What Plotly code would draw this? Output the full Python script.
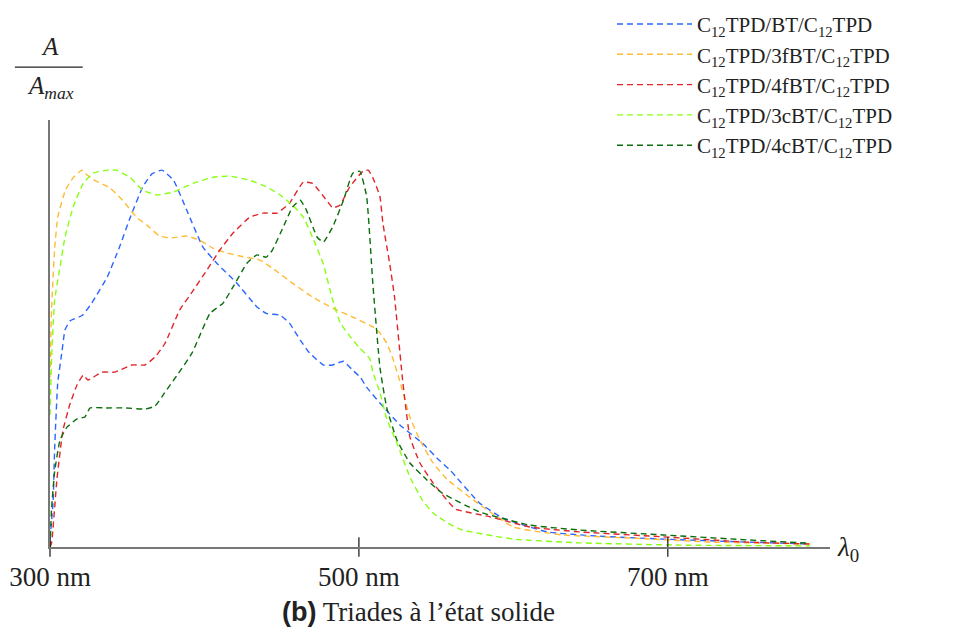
import plotly.graph_objects as go

# ---------------- data ----------------
names = [
    "C<sub>12</sub>TPD/BT/C<sub>12</sub>TPD",
    "C<sub>12</sub>TPD/3fBT/C<sub>12</sub>TPD",
    "C<sub>12</sub>TPD/4fBT/C<sub>12</sub>TPD",
    "C<sub>12</sub>TPD/3cBT/C<sub>12</sub>TPD",
    "C<sub>12</sub>TPD/4cBT/C<sub>12</sub>TPD",
]
colors = ["#2a66ff", "#ffbb33", "#e0262b", "#88ff11", "#0b6e0b"]

bt_wl = [300, 302, 303, 305, 307.8, 309.7, 313, 321, 327, 337, 345, 352, 360, 366, 372.5, 380,
         388.5, 399, 408, 421, 434, 440, 449, 455, 462, 468, 477, 483, 490, 496, 501, 505,
         513.6, 527, 541, 552, 559, 578, 593, 622, 654, 697, 751, 792]
bt_a = [0.02, 0.12, 0.26, 0.435, 0.52, 0.576, 0.60, 0.615, 0.647, 0.716, 0.796, 0.875, 0.955, 0.99, 1.0, 0.973,
        0.894, 0.796, 0.753, 0.70, 0.637, 0.62, 0.615, 0.594, 0.549, 0.515, 0.483, 0.483, 0.493, 0.469, 0.45, 0.424,
        0.382, 0.322, 0.276, 0.23, 0.204, 0.117, 0.077, 0.04, 0.029, 0.021, 0.013, 0.008]

f3_wl = [300, 301, 303, 305, 310, 315, 320.7, 324, 329, 339, 347, 356, 362.8, 371, 377.7, 388.7,
         397, 405.5, 414.6, 423, 436, 444, 457, 470, 483, 496, 509, 513.6, 518, 522, 526.5, 533,
         539.5, 548, 557, 574, 600, 632, 675, 729, 792]
f3_a = [0.45, 0.63, 0.79, 0.875, 0.947, 0.98, 1.0, 0.987, 0.973, 0.952, 0.92, 0.875, 0.854, 0.825, 0.82, 0.825,
        0.814, 0.793, 0.78, 0.772, 0.761, 0.74, 0.70, 0.663, 0.634, 0.61, 0.584, 0.568, 0.541, 0.50, 0.44, 0.345,
        0.284, 0.223, 0.18, 0.125, 0.053, 0.032, 0.024, 0.013, 0.008]

f4_wl = [300, 301, 304.5, 308.4, 313, 317.5, 321.5, 324.6, 333.6, 342, 353, 361.5, 368, 374.4, 384,
         392.6, 401.6, 410, 418.5, 429.4, 438, 447, 455, 464, 470, 479, 483, 487.7, 494, 502.6, 506,
         509, 513.6, 515.5, 520, 523, 528.5, 533, 539.5, 548, 559, 563, 585, 610.7, 643, 697, 751, 792]
f4_a = [0.0, 0.01, 0.18, 0.31, 0.38, 0.43, 0.456, 0.443, 0.464, 0.464, 0.483, 0.483, 0.504, 0.54, 0.629,
        0.68, 0.735, 0.788, 0.833, 0.875, 0.886, 0.886, 0.912, 0.968, 0.965, 0.92, 0.90, 0.907, 0.955, 0.997, 1.0,
        0.98, 0.93, 0.86, 0.75, 0.665, 0.435, 0.292, 0.223, 0.17, 0.115, 0.10, 0.08, 0.053, 0.04, 0.027, 0.013, 0.008]

c3_wl = [300, 301, 303, 306.5, 309.7, 315, 321.5, 328, 337, 343, 352, 360, 369, 380, 392.6, 405.5,
         416.5, 429.4, 440.5, 449, 457, 464, 470, 477, 483, 488, 494, 500, 507, 509, 513.6, 518,
         524.6, 533, 541, 548, 559, 567, 600, 643, 708, 792]
c3_a = [0.35, 0.5, 0.655, 0.743, 0.822, 0.902, 0.965, 0.992, 1.0, 1.0, 0.98, 0.947, 0.934, 0.942, 0.965, 0.981,
        0.984, 0.973, 0.955, 0.934, 0.907, 0.875, 0.822, 0.75, 0.655, 0.594, 0.56, 0.53, 0.50, 0.465, 0.41, 0.34,
        0.276, 0.186, 0.125, 0.09, 0.06, 0.045, 0.021, 0.011, 0.005, 0.003]

c4_wl = [300, 301, 303, 306.5, 311, 317.5, 322.6, 326, 335.6, 348.5, 361.5, 368, 374, 383, 392,
         403.6, 412, 418.5, 427.5, 434, 440, 444, 451, 457, 462, 466, 473, 477, 483, 490, 496,
         500.6, 505, 509, 513.6, 518, 524.6, 533, 544, 554, 578, 610.7, 643, 697, 751, 792]
c4_a = [0.0, 0.1, 0.20, 0.284, 0.318, 0.34, 0.345, 0.369, 0.369, 0.369, 0.366, 0.374, 0.408, 0.46, 0.515,
        0.62, 0.647, 0.69, 0.753, 0.775, 0.769, 0.788, 0.849, 0.902, 0.92, 0.894, 0.822, 0.809, 0.849, 0.92, 0.992,
        0.997, 0.93, 0.70, 0.477, 0.37, 0.284, 0.223, 0.178, 0.143, 0.093, 0.058, 0.045, 0.032, 0.019, 0.01]

series_wl = [bt_wl, f3_wl, f4_wl, c3_wl, c4_wl]
series_a = [bt_a, f3_a, f4_a, c3_a, c4_a]

tick_vals = [300, 500, 700]
tick_text = ["300 nm", "500 nm", "700 nm"]
x_range = [300, 805]
y_range = [0, 1.133]

SERIF = "Liberation Serif"
TXT = "#222222"

fig = go.Figure()
for nm, col, wl, a in zip(names, colors, series_wl, series_a):
    fig.add_trace(go.Scatter(
        x=wl, y=a, name=nm, mode="lines",
        line=dict(color=col, width=1.4, dash="6px,4px", shape="spline", smoothing=0.4),
    ))

# crossing tick marks on the wavelength axis
fig.add_trace(go.Scatter(
    x=tick_vals, y=[0] * len(tick_vals), mode="markers", showlegend=False, hoverinfo="skip",
    cliponaxis=False,
    marker=dict(symbol="line-ns", size=14, line=dict(color="#111111", width=1.2)),
))

fig.update_layout(
    width=970, height=631,
    margin=dict(l=50, r=140, t=120, b=84, autoexpand=False),
    paper_bgcolor="white", plot_bgcolor="white",
    showlegend=True,
    legend=dict(
        xref="paper", yref="paper", x=0.7205, y=1.272,
        xanchor="left", yanchor="top",
        font=dict(family=SERIF, size=21, color=TXT),
        itemwidth=75, bgcolor="rgba(0,0,0,0)", tracegroupgap=0,
    ),
    xaxis=dict(
        range=x_range, showgrid=False, zeroline=False,
        showline=True, linecolor="#777777", linewidth=2,
        tickmode="array", tickvals=tick_vals, ticktext=tick_text, ticks="",
        ticklabelstandoff=5,
        tickfont=dict(family=SERIF, size=27, color=TXT),
    ),
    yaxis=dict(
        range=y_range, showgrid=False, zeroline=False,
        showline=True, linecolor="#777777", linewidth=2,
        showticklabels=False, ticks="",
    ),
)

# arrow heads on both axes
fig.add_annotation(x=x_range[1], y=0, xref="x", yref="y", ax=-2, ay=0, text="",
                   showarrow=True, arrowhead=2, arrowsize=2.3, arrowwidth=1.5,
                   arrowcolor="#111111", standoff=0)
fig.add_annotation(x=x_range[0], y=y_range[1], xref="x", yref="y", ax=0, ay=2, text="",
                   showarrow=True, arrowhead=2, arrowsize=2.3, arrowwidth=1.5,
                   arrowcolor="#111111", standoff=0)

# axis labels
fig.add_annotation(x=0, y=1.173, xref="paper", yref="paper", xanchor="center", yanchor="middle",
                   text="<i>A</i>", showarrow=False, font=dict(family=SERIF, size=25, color=TXT))
fig.add_shape(type="line", xref="paper", yref="paper", x0=-0.045, x1=0.042, y0=1.124, y1=1.124,
              line=dict(color=TXT, width=1.3))
fig.add_annotation(x=0, y=1.075, xref="paper", yref="paper", xanchor="center", yanchor="middle",
                   text="<i>A<sub>max</sub></i>", showarrow=False,
                   font=dict(family=SERIF, size=25, color=TXT))
fig.add_annotation(x=1.006, y=-0.005, xref="paper", yref="paper", xanchor="left", yanchor="middle",
                   text="<i>λ</i><sub>0</sub>", showarrow=False,
                   font=dict(family=SERIF, size=27, color=TXT))

# caption
fig.add_annotation(x=0.472, y=-0.152, xref="paper", yref="paper", xanchor="center", yanchor="middle",
                   text="<span style='font-family:Liberation Sans'><b>(b)</b></span> Triades à l’état solide",
                   showarrow=False, font=dict(family=SERIF, size=27, color=TXT))

fig.write_html("out.html", config={"displayModeBar": False},
               post_script="document.body.style.margin='0';")
